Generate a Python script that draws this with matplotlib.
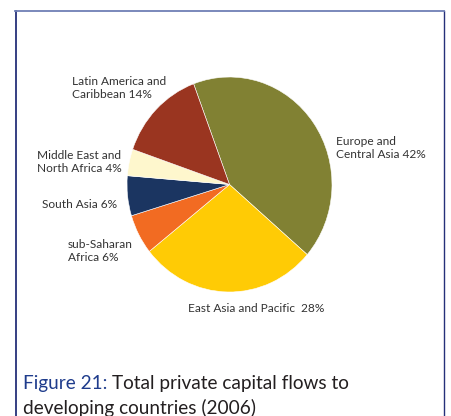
import matplotlib
matplotlib.use('Agg')
import matplotlib.pyplot as plt
from matplotlib.lines import Line2D

# --- dados ---
regions = ['Europe and\nCentral Asia 42%', 'East Asia and Pacific  28%',
           'sub-Saharan\nAfrica 6%', 'South Asia 6%',
           'Middle East and\nNorth Africa 4%', 'Latin America and\nCaribbean 14%']
shares = [42, 28, 6, 6, 4, 14]
colors = ['#818133', '#FFCB05', '#F26B22', '#1B3561', '#FEF7CD', '#9A3520']
# posição dos rótulos em pixels (x, y a partir do topo)
label_pos = [(336, 148), (188, 309), (68, 251), (42, 204), (37, 162), (72, 88)]

W, H = 451, 416
plt.rcParams['font.family'] = ['Lato', 'DejaVu Sans']
fig = plt.figure(figsize=(W / 100, H / 100), dpi=100)

# pizza (ligeiramente elíptica como no original)
cx, cy, rx, ry = 229.5, 184.5, 102.5, 107.5
ax = fig.add_axes([(cx - rx) / W, (H - cy - ry) / H, 2 * rx / W, 2 * ry / H])
ax.pie(shares, colors=colors, startangle=110.5, counterclock=False,
       wedgeprops=dict(edgecolor='white', linewidth=0.4))
ax.set_aspect('auto')
ax.set_xlim(-1, 1)
ax.set_ylim(-1, 1)

for txt, (x, y) in zip(regions, label_pos):
    fig.text(x / W, 1 - y / H, txt, fontsize=8.6, color='#333333',
             ha='left', va='center', linespacing=1.2)

# moldura
navy = '#25307A'
fig.add_artist(Line2D([15.5 / W, 15.5 / W], [0, 1 - 11 / H], color=navy, lw=1.3))
fig.add_artist(Line2D([443.5 / W, 443.5 / W], [0, 1 - 11 / H], color=navy, lw=1.0))
fig.add_artist(Line2D([15 / W, 444 / W], [1 - 11 / H, 1 - 11 / H], color='#6F7FB5', lw=1.3))

# legenda da figura
cap_y = 1 - 383 / H
t = fig.text(23 / W, cap_y, 'Figure 21: ', fontsize=13.7, color='#1F3C8C', va='center')
fig.canvas.draw()
bb = t.get_window_extent()
fig.text(bb.x1 / W, cap_y, 'Total private capital flows to', fontsize=13.7,
         color='#231F20', va='center')
fig.text(23 / W, 1 - 408 / H, 'developing countries (2006)', fontsize=13.7,
         color='#231F20', va='center')

fig.savefig('out.png', dpi=100)
